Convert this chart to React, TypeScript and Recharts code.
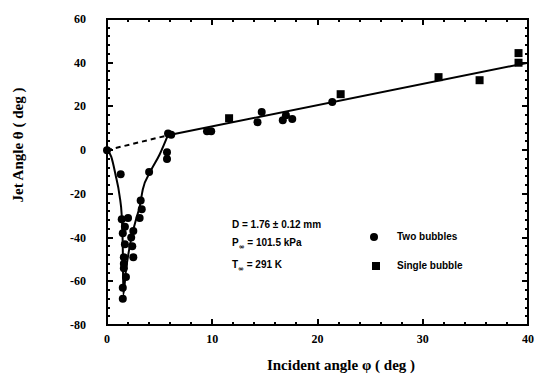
import React from 'react';
import { ComposedChart, Line, Scatter, XAxis, YAxis } from 'recharts';

// Two bubbles (circles)
const twoBubbles = [
  { x: 0, y: 0 }, { x: 1.3, y: -11 }, { x: 4.0, y: -10 }, { x: 3.2, y: -23 }, { x: 3.3, y: -27 },
  { x: 1.4, y: -31.6 }, { x: 2.0, y: -31 }, { x: 1.7, y: -35 }, { x: 2.5, y: -37 }, { x: 3.1, y: -31 },
  { x: 1.5, y: -38 }, { x: 2.3, y: -40 }, { x: 1.7, y: -43 }, { x: 2.4, y: -44 }, { x: 1.6, y: -49 },
  { x: 2.5, y: -49 }, { x: 1.6, y: -52 }, { x: 1.6, y: -54 }, { x: 1.8, y: -58 }, { x: 1.5, y: -63 },
  { x: 1.5, y: -68 }, { x: 5.7, y: -1 }, { x: 5.7, y: -4 }, { x: 5.8, y: 7.6 }, { x: 6.1, y: 7 },
  { x: 9.5, y: 8.7 }, { x: 9.9, y: 8.7 }, { x: 14.3, y: 12.8 }, { x: 14.7, y: 17.4 }, { x: 16.7, y: 13.7 },
  { x: 17.6, y: 14.2 }, { x: 17, y: 16 }, { x: 21.4, y: 22 },
];

// Single bubble (squares)
const singleBubble = [
  { x: 11.6, y: 14.6 }, { x: 22.2, y: 25.6 }, { x: 31.5, y: 33.4 },
  { x: 35.4, y: 32 }, { x: 39.1, y: 44.4 }, { x: 39.1, y: 40 },
];

// hand-drawn fit curves
const lowAngleCurve = [
  { x: 0, y: 0 }, { x: 0.4, y: -3 }, { x: 0.8, y: -11 }, { x: 1.2, y: -21 }, { x: 1.4, y: -30 },
  { x: 1.5, y: -45 }, { x: 1.55, y: -66 }, { x: 1.8, y: -55 }, { x: 2.2, y: -43 }, { x: 2.8, y: -31 },
  { x: 3.1, y: -26 }, { x: 3.4, y: -18 }, { x: 4.1, y: -10 }, { x: 5, y: -2 }, { x: 5.8, y: 7 },
];
const fitLine = [{ x: 5.8, y: 6.8 }, { x: 40, y: 40 }];
const dashedLine = [{ x: 0, y: 0 }, { x: 5.8, y: 6.8 }];

const xTicks = [0, 2, 4, 6, 8, 10, 12, 14, 16, 18, 20, 22, 24, 26, 28, 30, 32, 34, 36, 38, 40];
const yTicks = [-80, -76, -72, -68, -64, -60, -56, -52, -48, -44, -40, -36, -32, -28, -24, -20, -16, -12, -8, -4,
  0, 4, 8, 12, 16, 20, 24, 28, 32, 36, 40, 44, 48, 52, 56, 60];

const X_MIN = 0, X_MAX = 40, Y_MIN = -80, Y_MAX = 60;

// plot box in pixels (follows from the chart margins + axis sizes below)
const LEFT = 107, RIGHT = 528, TOP = 19, BOTTOM = 325;
const px = (v: number) => LEFT + ((v - X_MIN) / (X_MAX - X_MIN)) * (RIGHT - LEFT);
const py = (v: number) => BOTTOM - ((v - Y_MIN) / (Y_MAX - Y_MIN)) * (BOTTOM - TOP);

const tickFont = { fontFamily: 'Liberation Serif', fontWeight: 'bold', fontSize: 12, fill: '#000' } as const;

const XTickLabel = (props: any) => {
  const { x, payload } = props;
  if (payload.value % 10 !== 0) return <g />;
  return <text x={x} y={BOTTOM + 18} textAnchor="middle" {...tickFont}>{payload.value}</text>;
};

const YTickLabel = (props: any) => {
  const { y, payload } = props;
  if (payload.value % 20 !== 0) return <g />;
  return <text x={LEFT - 21} y={y + 4} textAnchor="end" {...tickFont}>{payload.value}</text>;
};

const Square = (props: any) => {
  const { cx, cy } = props;
  return <rect x={cx - 4} y={cy - 4} width={8} height={8} fill="#000" />;
};

const Dot = (props: any) => {
  const { cx, cy } = props;
  return <circle cx={cx} cy={cy} r={4} fill="#000" />;
};

const annot: React.CSSProperties = {
  position: 'absolute',
  fontFamily: 'Liberation Sans',
  fontWeight: 'bold',
  fontSize: 10,
  color: '#000',
  whiteSpace: 'nowrap',
  lineHeight: '12px',
};

const inf = { fontFamily: 'DejaVu Sans', fontSize: 7, verticalAlign: -3 } as const;
const titleFont = { fontFamily: 'Liberation Serif', fontWeight: 'bold', fontSize: 15, fill: '#000' } as const;

// small filled boxes used for the frame and its inward ticks
const bar = (left: number, top: number, width: number, height: number): React.CSSProperties => ({
  position: 'absolute', left, top, width, height, background: '#000',
});

export default function App() {
  return (
    <div style={{ position: 'absolute', left: 0, top: 0, width: 537, height: 380, background: '#fff' }}>
      <ComposedChart width={537} height={380} margin={{ top: TOP, right: 537 - RIGHT, bottom: 380 - BOTTOM - 30, left: LEFT - 60 }}>
        <XAxis
          type="number"
          dataKey="x"
          domain={[X_MIN, X_MAX]}
          ticks={xTicks}
          interval={0}
          height={30}
          axisLine={false}
          tickLine={false}
          tick={<XTickLabel />}
        />
        <YAxis
          type="number"
          domain={[Y_MIN, Y_MAX]}
          ticks={yTicks}
          interval={0}
          width={60}
          axisLine={false}
          tickLine={false}
          tick={<YTickLabel />}
        />
        <Line data={dashedLine} dataKey="y" type="linear" stroke="#000" strokeWidth={2} strokeDasharray="5 4" dot={false} isAnimationActive={false} />
        <Line data={fitLine} dataKey="y" type="linear" stroke="#000" strokeWidth={2} dot={false} isAnimationActive={false} />
        <Line data={lowAngleCurve} dataKey="y" type="monotone" stroke="#000" strokeWidth={2} dot={false} isAnimationActive={false} />
        <Scatter data={twoBubbles} dataKey="y" shape={<Dot />} isAnimationActive={false} />
        <Scatter data={singleBubble} dataKey="y" shape={<Square />} isAnimationActive={false} />
      </ComposedChart>

      {/* frame: four filled bars */}
      <div style={bar(LEFT - 1, TOP - 1, RIGHT - LEFT + 2, 2)} />
      <div style={bar(LEFT - 1, BOTTOM - 1, RIGHT - LEFT + 2, 2)} />
      <div style={bar(LEFT - 1, TOP - 1, 2, BOTTOM - TOP + 2)} />
      <div style={bar(RIGHT - 1, TOP - 1, 2, BOTTOM - TOP + 2)} />

      {/* inward ticks */}
      {xTicks.map((v) => {
        const len = v % 10 === 0 ? 6 : 3;
        return (
          <React.Fragment key={`x${v}`}>
            <div style={bar(px(v) - 1, BOTTOM - len, 2, len)} />
            <div style={bar(px(v) - 1, TOP, 2, len)} />
          </React.Fragment>
        );
      })}
      {yTicks.map((v) => {
        const len = v % 20 === 0 ? 6 : 3;
        return (
          <React.Fragment key={`y${v}`}>
            <div style={bar(LEFT, py(v) - 1, len, 2)} />
            <div style={bar(RIGHT - len, py(v) - 1, len, 2)} />
          </React.Fragment>
        );
      })}

      {/* axis titles */}
      <svg width={537} height={380} style={{ position: 'absolute', left: 0, top: 0, pointerEvents: 'none' }}>
        <text x={341} y={370} textAnchor="middle" {...titleFont}>Incident angle φ ( deg )</text>
        <text transform="translate(23,145) rotate(-90)" textAnchor="middle" {...titleFont}>Jet Angle θ ( deg )</text>
      </svg>

      {/* annotations */}
      <div style={{ ...annot, left: 232, top: 219 }}>D = 1.76 ± 0.12 mm</div>
      <div style={{ ...annot, left: 232, top: 237 }}>P<span style={inf}>∞</span> = 101.5 kPa</div>
      <div style={{ ...annot, left: 232, top: 259 }}>T<span style={inf}>∞</span> = 291 K</div>

      {/* legend */}
      <div style={{ position: 'absolute', left: 370, top: 233, width: 8, height: 8, borderRadius: 4, background: '#000' }} />
      <div style={{ ...annot, left: 397, top: 231 }}>Two bubbles</div>
      <div style={{ position: 'absolute', left: 372, top: 262, width: 8, height: 8, background: '#000' }} />
      <div style={{ ...annot, left: 397, top: 260 }}>Single bubble</div>
    </div>
  );
}
